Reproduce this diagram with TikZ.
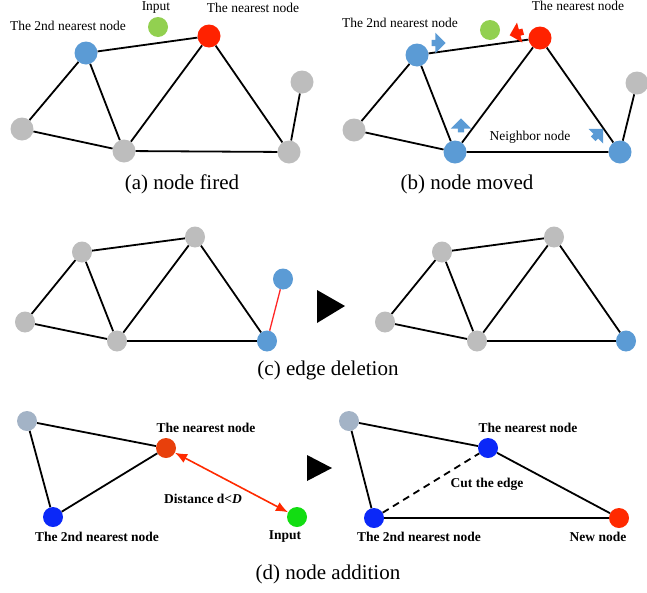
\documentclass[tikz,border=0pt]{standalone}
\usepackage{fontspec}
\setmainfont{Liberation Serif}
\usetikzlibrary{arrows.meta,shapes.geometric,shapes.arrows}

\definecolor{nblue}{HTML}{5B9BD5}
\definecolor{nred}{HTML}{FF2200}
\definecolor{ngreen}{HTML}{92D050}
\definecolor{ngray}{HTML}{BDBDBD}
\definecolor{dgray}{HTML}{A3B3C6}
\definecolor{dorange}{HTML}{E8400C}
\definecolor{dblue}{HTML}{0B28F8}
\definecolor{dgreen}{HTML}{12DD12}
\definecolor{dred}{HTML}{FF2A00}

\begin{document}
\begin{tikzpicture}[x=1pt,y=-1pt,
        nd/.style={circle,inner sep=0pt,minimum size=23pt},
        sm/.style={circle,inner sep=0pt,minimum size=20pt},
        ell/.style={ellipse,inner sep=0pt,minimum width=20pt,minimum height=21pt},
        edge/.style={line width=1.8pt},
        lbl/.style={inner sep=0pt,font=\fontsize{13.5}{15}\selectfont},
        blbl/.style={inner sep=0pt,font=\fontsize{13.5}{15}\selectfont\bfseries},
        capt/.style={inner sep=0pt,font=\fontsize{21}{24}\selectfont},
        mv/.style={single arrow,inner sep=3pt,minimum height=14pt,minimum width=13pt,
            fill=nblue}]

        \useasboundingbox (0,0) rectangle (647,592);

        % (a) node fired
        \node[nd,fill=nblue]  (a2)  at (86,53)   {};
        \node[nd,fill=nred]   (a1)  at (209,36)  {};
        \node[sm,fill=ngreen] (ain) at (158,27)  {};
        \node[nd,fill=ngray]  (al)  at (22,129)  {};
        \node[nd,fill=ngray]  (ab)  at (124,151) {};
        \node[nd,fill=ngray]  (arb) at (289,152) {};
        \node[nd,fill=ngray]  (art) at (302,82)  {};

        \draw[edge]
            (a2) -- (a1)
            (a2) -- (al)
            (a2) -- (ab)
            (al) -- (ab)
            (ab) -- (a1)
            (a1) -- (arb)
            (ab) -- (arb)
            (arb) -- (art);

        \node[lbl] (a2t) at (68,26)  {The 2nd nearest node};
        \node[lbl] (aint) at (156,8) {Input};
        \node[lbl] (a1t) at (253,8)  {The nearest node};
        \node[capt] (acap) at (182,184) {(a) node fired};

        % (b) node moved
        \node[nd,fill=nblue]  (b2)  at (417,55)  {};
        \node[nd,fill=nred]   (b1)  at (540,38)  {};
        \node[sm,fill=ngreen] (bin) at (490,30)  {};
        \node[nd,fill=ngray]  (bl)  at (354,130) {};
        \node[nd,fill=nblue]  (bb)  at (455,152) {};
        \node[nd,fill=nblue]  (brb) at (620,152) {};
        \node[nd,fill=ngray]  (brt) at (637,83)  {};

        \draw[edge]
            (b2) -- (b1)
            (b2) -- (bl)
            (b2) -- (bb)
            (bl) -- (bb)
            (bb) -- (b1)
            (b1) -- (brb)
            (bb) -- (brb)
            (brb) -- (brt);

        \node[mv,rotate=0]   (m2)  at (437,43)  {};
        \node[mv,rotate=90]  (mb)  at (461,127) {};
        \node[mv,rotate=45]  (mrb) at (597,135) {};
        \node[mv,rotate=195,fill=nred] (m1) at (518,33) {};

        \node[lbl] (b2t) at (400,23)  {The 2nd nearest node};
        \node[lbl] (b1t) at (578,6)   {The nearest node};
        \node[lbl] (bnt) at (530,137) {Neighbor node};
        \node[capt] (bcap) at (467,184) {(b) node moved};

        % (c) edge deletion
        \node[ell,fill=ngray] (c1) at (82,252)  {};
        \node[ell,fill=ngray] (c2) at (195,237) {};
        \node[ell,fill=ngray] (c3) at (25,322)  {};
        \node[ell,fill=ngray] (c4) at (117,341) {};
        \node[ell,fill=nblue] (c5) at (267,341) {};
        \node[ell,fill=nblue] (c6) at (283,279) {};

        \draw[edge]
            (c1) -- (c2)
            (c1) -- (c3)
            (c1) -- (c4)
            (c3) -- (c4)
            (c4) -- (c2)
            (c2) -- (c5)
            (c4) -- (c5);
        \draw[line width=1.3pt,red!85!white] (c5) -- (c6);

        \fill (317,290) -- (345,306) -- (317,323) -- cycle;

        \node[ell,fill=ngray] (e1) at (442,252) {};
        \node[ell,fill=ngray] (e2) at (554,237) {};
        \node[ell,fill=ngray] (e3) at (385,322) {};
        \node[ell,fill=ngray] (e4) at (477,341) {};
        \node[ell,fill=nblue] (e5) at (626,341) {};

        \draw[edge]
            (e1) -- (e2)
            (e1) -- (e3)
            (e1) -- (e4)
            (e3) -- (e4)
            (e4) -- (e2)
            (e2) -- (e5)
            (e4) -- (e5);

        \node[capt] (ccap) at (328,370) {(c) edge deletion};

        % (d) node addition
        \node[sm,fill=dgray]   (d0)  at (27,421)  {};
        \node[sm,fill=dorange] (d1)  at (166,448) {};
        \node[sm,fill=dblue]   (d2)  at (53,517)  {};
        \node[sm,fill=dgreen]  (din) at (297,517) {};

        \draw[edge]
            (d0) -- (d1)
            (d0) -- (d2)
            (d2) -- (d1);
        \draw[line width=1.6pt,dred,{Latex[length=12pt,width=10pt]}-{Latex[length=12pt,width=10pt]}]
            (d1) -- (din);

        \node[blbl] (d1t)  at (206,428) {The nearest node};
        \node[blbl] (ddt)  at (203,499) {Distance d<\textit{D}};
        \node[blbl] (d2t)  at (97,537)  {The 2nd nearest node};
        \node[blbl] (dint) at (285,537) {Input};

        \fill (307,455) -- (332,468) -- (307,481) -- cycle;

        \node[sm,fill=dgray] (f0) at (349,421) {};
        \node[sm,fill=dblue] (f1) at (488,448) {};
        \node[sm,fill=dblue] (f2) at (374,518) {};
        \node[sm,fill=dred]  (fn) at (619,518) {};

        \draw[edge]
            (f0) -- (f1)
            (f0) -- (f2)
            (f2) -- (fn)
            (f1) -- (fn);
        \draw[edge,dashed,dash pattern=on 7pt off 5pt] (f2) -- (f1);

        \node[blbl] (f1t) at (528,428) {The nearest node};
        \node[blbl] (fct) at (487,484) {Cut the edge};
        \node[blbl] (f2t) at (419,537) {The 2nd nearest node};
        \node[blbl] (fnt) at (598,537) {New node};

        \node[capt] (dcap) at (328,574) {(d) node addition};

    \end{tikzpicture}
\end{document}
